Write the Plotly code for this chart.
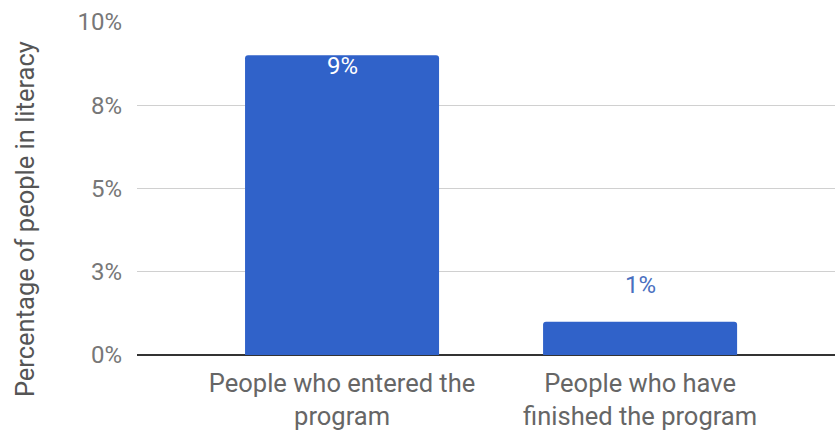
import plotly.graph_objects as go

categories = ["People who entered the<br>program", "People who have<br>finished the program"]
values = [9.0, 1.0]
value_labels = ["9%", "1%"]
tick_vals = [0, 2.5, 5, 7.5, 10]
tick_text = ["0%", "3%", "5%", "8%", "10%"]
y_title = "Percentage of people in literacy"

bar_color = "#3062C9"
font_family = "Roboto, Arial, sans-serif"

fig = go.Figure()
fig.add_trace(go.Bar(
    x=[0, 1],
    y=values,
    width=0.651,
    marker=dict(color=bar_color, line=dict(width=0), cornerradius=3),
    hoverinfo="skip",
))

# value labels: first sits inside the bar, second floats above it
fig.add_annotation(x=0, y=values[0], text=value_labels[0], showarrow=False,
                   yanchor="middle", yshift=-11,
                   font=dict(family=font_family, size=24, color="#ffffff"))
fig.add_annotation(x=1, y=values[1], text=value_labels[1], showarrow=False,
                   yanchor="middle", yshift=37,
                   font=dict(family=font_family, size=24, color="#4A6FC0"))

# vertical axis title, placed a little below the plot's mid-height
fig.add_annotation(xref="paper", yref="paper", x=-0.1605, y=0.408,
                   text=y_title, textangle=-90, showarrow=False,
                   xanchor="center", yanchor="middle",
                   font=dict(family=font_family, size=25.5, color="#555555"))

fig.update_layout(
    width=835, height=433,
    margin=dict(l=137, r=0, t=22, b=78),
    paper_bgcolor="white",
    plot_bgcolor="white",
    showlegend=False,
    font=dict(family=font_family, color="#666666"),
    xaxis=dict(
        range=[-0.688, 1.654],
        tickvals=[0, 1],
        ticktext=categories,
        showgrid=False,
        zeroline=False,
        showline=False,
        ticks="",
        ticklabelstandoff=10,
        tickfont=dict(size=25.5, color="#666666"),
        fixedrange=True,
    ),
    yaxis=dict(
        range=[0, 10],
        tickvals=tick_vals,
        ticktext=tick_text,
        showgrid=True,
        gridcolor="#D0D0D0",
        gridwidth=1,
        zeroline=True,
        zerolinecolor="#333333",
        zerolinewidth=2,
        showline=False,
        ticks="",
        ticklabelstandoff=14,
        tickfont=dict(size=24, color="#777777"),
        fixedrange=True,
    ),
)

fig.write_html("out.html")
